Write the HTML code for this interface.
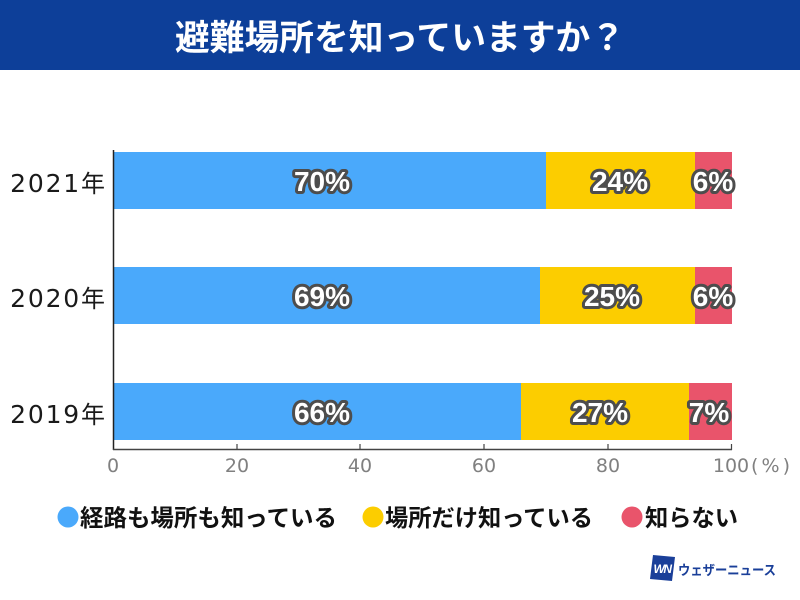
<!DOCTYPE html>
<html><head><meta charset="utf-8"><style>
html,body{margin:0;padding:0;background:#fff;}
svg{display:block;}
</style></head><body>
<svg width="800" height="600" viewBox="0 0 800 600" xmlns="http://www.w3.org/2000/svg">
<rect x="0" y="0" width="800" height="600" fill="#fff"/>
<rect x="0" y="0" width="800" height="70" fill="#0d3f99"/>
<text x="400" y="50" text-anchor="middle" fill="#fff" font-family="'Noto Sans CJK JP', sans-serif" font-weight="bold" font-size="35" textLength="450" lengthAdjust="spacingAndGlyphs">避難場所を知っていますか？</text>

<!-- bars -->
<g>
<rect x="113" y="152" width="433" height="57" fill="#4aa9fb"/>
<rect x="546" y="152" width="149" height="57" fill="#fccd00"/>
<rect x="695" y="152" width="37" height="57" fill="#e9546b"/>

<rect x="113" y="267" width="427" height="57" fill="#4aa9fb"/>
<rect x="540" y="267" width="155" height="57" fill="#fccd00"/>
<rect x="695" y="267" width="37" height="57" fill="#e9546b"/>

<rect x="113" y="383" width="408" height="57" fill="#4aa9fb"/>
<rect x="521" y="383" width="168" height="57" fill="#fccd00"/>
<rect x="689" y="383" width="43" height="57" fill="#e9546b"/>
</g>

<!-- axes -->
<line x1="113.5" y1="150" x2="113.5" y2="450" stroke="#222" stroke-width="1.5"/>
<line x1="113" y1="449.5" x2="732" y2="449.5" stroke="#444" stroke-width="1.5"/>
<g stroke="#444" stroke-width="1.2">
<line x1="237" y1="444" x2="237" y2="450"/>
<line x1="360" y1="444" x2="360" y2="450"/>
<line x1="484" y1="444" x2="484" y2="450"/>
<line x1="608" y1="444" x2="608" y2="450"/>
<line x1="731.5" y1="444" x2="731.5" y2="450"/>
</g>
<g font-family="'DejaVu Sans', sans-serif" font-size="19" fill="#808080" text-anchor="middle">
<text x="113" y="472">0</text>
<text x="237" y="472">20</text>
<text x="360" y="472">40</text>
<text x="484" y="472">60</text>
<text x="608" y="472">80</text>
<text x="731" y="472">100</text>
</g>
<text x="751" y="472" font-family="'DejaVu Sans','Noto Sans CJK JP', sans-serif" font-size="19" fill="#808080" textLength="39" lengthAdjust="spacing">(%)</text>

<!-- year labels -->
<g font-size="25" fill="#1a1a1a" text-anchor="end">
<text x="105" y="192"><tspan font-family="'DejaVu Sans', sans-serif" letter-spacing="1.8">2021</tspan><tspan font-family="'Noto Sans CJK JP', sans-serif" font-size="24">年</tspan></text>
<text x="105" y="307"><tspan font-family="'DejaVu Sans', sans-serif" letter-spacing="1.8">2020</tspan><tspan font-family="'Noto Sans CJK JP', sans-serif" font-size="24">年</tspan></text>
<text x="105" y="423"><tspan font-family="'DejaVu Sans', sans-serif" letter-spacing="1.8">2019</tspan><tspan font-family="'Noto Sans CJK JP', sans-serif" font-size="24">年</tspan></text>
</g>

<!-- value labels -->
<g font-family="'Liberation Sans', sans-serif" font-weight="bold" font-size="28" fill="#fff" stroke="#4d4d4d" stroke-width="6" stroke-linejoin="round" paint-order="stroke" text-anchor="middle">
<text x="322" y="191">70%</text>
<text x="620" y="191">24%</text>
<text x="713" y="191">6%</text>
<text x="322" y="306">69%</text>
<text x="612" y="306">25%</text>
<text x="713" y="306">6%</text>
<text x="322" y="422">66%</text>
<text x="600" y="422">27%</text>
<text x="709" y="422">7%</text>
</g>

<!-- legend -->
<circle cx="68" cy="517" r="10.5" fill="#4aa9fb"/>
<circle cx="373" cy="517" r="10.5" fill="#fccd00"/>
<circle cx="632" cy="517" r="10.5" fill="#e9546b"/>
<g font-family="'Noto Sans CJK JP', sans-serif" font-weight="bold" font-size="23.5" fill="#111">
<text x="80" y="526" textLength="257" lengthAdjust="spacingAndGlyphs">経路も場所も知っている</text>
<text x="385" y="526" textLength="208" lengthAdjust="spacingAndGlyphs">場所だけ知っている</text>
<text x="645" y="526" textLength="93" lengthAdjust="spacingAndGlyphs">知らない</text>
</g>

<!-- logo -->
<polygon points="653,555 675,557 672,581 650,579" fill="#1a3f99"/>
<text x="662" y="573" text-anchor="middle" font-family="'Liberation Sans', sans-serif" font-weight="bold" font-style="italic" font-size="12" fill="#fff" letter-spacing="-1.5">WN</text>
<text x="678" y="575" font-family="'Noto Sans CJK JP', sans-serif" font-weight="bold" font-size="13.5" fill="#1a3f99" textLength="98" lengthAdjust="spacingAndGlyphs">ウェザーニュース</text>
</svg>
</body></html>
